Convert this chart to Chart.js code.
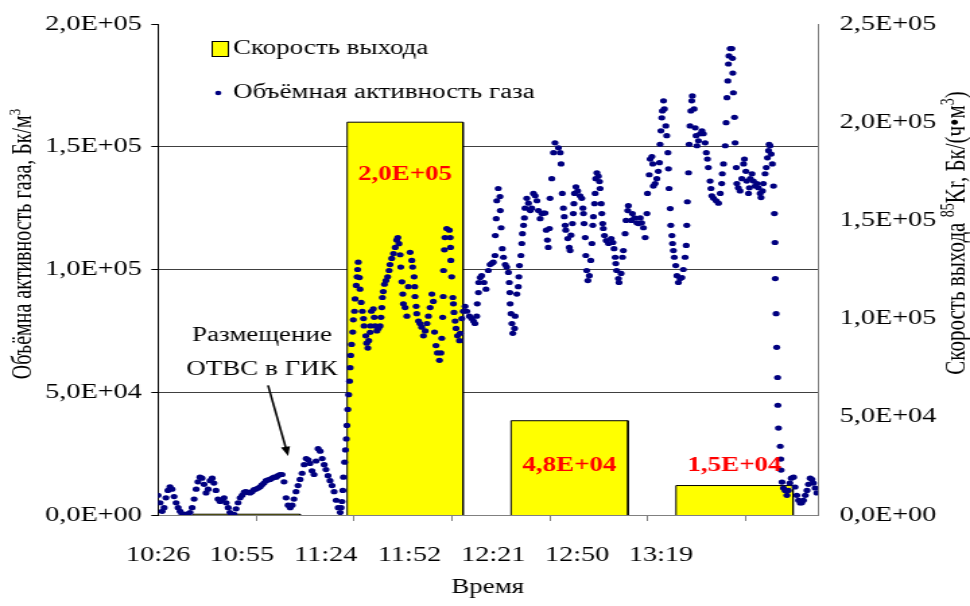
<!DOCTYPE html>
<html>
<head>
<meta charset="utf-8">
<script src="https://cdn.jsdelivr.net/npm/chart.js@4.4.1/dist/chart.umd.min.js"></script>
<style>
  body { margin: 0; background: #fff; }
  canvas { display: block; }
</style>
</head>
<body>
<!-- the original picture is stretched sideways, so the canvas is drawn narrower and scaled up -->
<canvas id="chart" width="720" height="606" style="width:970px;height:606px"></canvas>
<script>
'use strict';

// gas activity readings: [time in minutes after midnight, kBq/m3]
const gasActivity = [
  [626.4,8],[627.1,5],[627.8,1.5],[628.5,3],[629.1,7],[629.8,10],[630.5,11.5],[631.2,10.5],[631.9,7.5],[632.6,5],
  [633.3,3],[634.0,1.5],[634.6,0.5],[635.3,0.3],[636.0,0.3],[636.7,0.5],[637.4,1],[638.1,3],[638.8,6.5],[639.5,10.5],
  [640.1,13.5],[640.8,15.4],[641.5,15],[642.2,12.5],[642.9,9],[643.6,10.5],[644.3,14],[645.0,15],[645.6,13],[646.3,10],
  [647.0,6.5],[647.7,5.5],[648.4,6],[649.1,7],[649.8,5],[650.5,3],[651.1,1],[651.8,0.3],[652.5,0.3],[653.2,2.5],
  [653.9,5],[654.6,7],[655.3,8],[656.0,9.3],[656.6,9.5],[657.3,9.2],[658.0,9],[658.7,9.5],[659.4,10.3],[660.1,10.6],
  [660.8,11],[661.5,11.5],[662.1,12.3],[662.8,13],[663.5,14],[664.2,14.3],[664.9,14.5],[665.6,15],[666.3,15.4],[667.0,15.4],
  [667.6,16],[668.3,16.5],[669.0,16.5],[669.7,13.5],[670.4,7],[671.1,4],[671.8,3],[672.5,4],[673.1,6.5],[673.8,9.5],
  [674.5,12],[675.2,14.5],[675.9,17],[676.6,20.5],[677.3,23],[678.0,22.5],[678.6,21],[679.3,18],[680.0,16.5],[680.7,22],
  [681.4,27],[682.1,26],[682.8,23],[683.5,20.5],[684.1,18.5],[684.8,16],[685.5,14],[686.2,12],[686.9,9.5],[687.6,6],
  [688.3,3],[689.0,1],
  [689.3,3],[689.6,5.5],[689.9,10],[690.1,15.4],[690.5,21.5],[690.8,26.5],[691.1,31],[691.3,36.5],[691.6,43],[691.9,49],
  [692.2,54.5],[692.4,60],[692.6,65],[692.9,69.5],[693.3,74.5],[693.5,79.5],[693.9,83],[694.1,88],[694.5,93.5],[694.8,97],
  [695.0,100],[695.2,103],
  [695.6,96.7],[695.8,92],[696.2,86.6],[696.6,83],[697.0,80],[697.2,77],[697.8,73],[698.1,70],[698.5,68],[698.8,71],
  [699.3,74.4],[699.4,77],[699.7,83],[700.4,84],[700.7,80.5],[701.0,77],[701.6,75],[702.1,76],[702.7,77],[703.0,80.5],
  [703.3,84.5],[703.5,88.6],[703.8,91],[704.2,94],[704.7,95.5],[705.3,97],[705.8,99.6],[706.1,102],[706.7,104.5],[707.3,106.5],
  [707.9,109],[708.4,112],[708.8,113],[709.2,110.5],[709.6,106],[709.8,101],[710.2,95],[710.5,90],[710.7,86],[711.3,84.5],
  [711.9,81],[712.4,93],[713.0,107],[713.6,103.7],[713.9,101],[714.4,97],[714.6,93],[714.7,89],[715.1,85],[715.3,82],
  [715.9,79],[716.4,78],[717.0,76.5],[717.6,73],[718.2,75],[718.8,78],[719.3,81],[719.9,84.5],[720.5,90],[721.0,87],
  [721.4,74.5],[721.9,69],[722.4,66],[723.1,63],[723.6,66],[723.9,72],[724.2,80.5],[724.4,89],[724.5,99.6],[724.8,108],
  [725.0,113],[725.6,116.7],[726.5,116],[726.8,113],[726.9,109],[727.0,103.7],[727.3,97],[727.7,88.6],[727.9,86],[728.1,82.5],
  [728.5,79],[728.8,76],[729.3,73],[730.0,71],[730.2,74],[730.8,80],[731.3,83],
  [731.9,85],[732.5,83],[733.4,81],[734.2,80],[734.8,79],[735.3,78],[735.9,81],[736.1,86],[736.5,90.6],[736.6,94.7],
  [737.1,96.7],[737.6,97.5],[738.4,94.7],[739.1,92],[739.9,99.6],[740.5,102],[741.1,102.5],[741.6,103],[742.2,105.7],[742.3,113.8],
  [742.6,120.7],[742.8,128],[743.3,133],[743.9,129.7],[744.0,124],[744.3,117],[744.7,108.5],[745.1,105],[745.7,102],[746.2,101],
  [746.8,98.8],[747.1,94.7],[747.3,90.6],[747.4,86],[747.7,82],[748.0,78],[748.3,74],[748.9,76],[749.1,81],[749.7,90],
  [750.2,93],[750.4,97],[750.6,101.6],[751.1,105.7],[751.4,110.6],[751.6,114.6],[752.0,118],[752.3,121],[752.5,125],[753.1,129],
  [753.7,127],[754.3,124],[754.8,125],[755.4,131],[756.0,130],[756.6,128],[757.1,124],[757.7,120.7],[758.3,122.8],[758.8,123],
  [759.4,123],[759.8,116],[760.2,112],[760.5,109],[760.9,116.7],[761.1,129],[761.7,137],[762.3,147.6],[762.8,151.6],[764.0,149.6],
  [764.6,147.6],[764.9,143],[765.3,131],[765.7,125],[766.0,121.5],[766.3,118],[766.5,116],[767.2,112.6],[767.7,109],[768.0,107.7],
  [768.3,114],[768.8,118.7],[769.1,122.8],[769.3,126.8],[769.5,131],[770.0,133.7],[770.6,132],[771.4,130],[772.0,129],[772.4,125],
  [772.6,122.8],[772.8,118.7],[773.2,113],[773.4,105.7],[773.7,99.6],[774.1,95.5],[774.6,97.5],[775.1,103.7],[775.5,110.6],[775.8,118],
  [776.0,121.5],[776.4,126.8],[776.6,131],[776.8,137],[777.2,139.4],[777.7,138],[778.1,135.8],[778.3,133],[778.7,126.8],[778.9,122.8],
  [779.2,118.7],[779.4,116.7],[779.8,113.8],[780.4,111.8],[781.2,110.6],[782.1,112.6],[782.7,111],[783.1,108.5],[783.5,105],[783.7,102.4],
  [784.0,99.6],[784.6,96.3],[784.8,94.7],[785.5,98.4],[786.0,105],[786.3,107.7],[786.9,114.6],[787.2,120],[787.8,124],[788.0,126],
  [789.0,120],[789.4,122.8],[790.1,121],
  [790.9,119],[791.5,118.7],[792.1,121],[792.6,119],[793.2,117],[793.8,113],[794.4,122.8],[794.6,131],[795.2,138.6],[795.5,145],
  [796.1,146],[796.4,143],[796.6,134],[797.2,135],[797.8,137],[798.3,140],[798.7,143.5],[798.9,151],[799.2,156.5],[799.5,161.8],
  [799.7,164.6],[800.1,168.7],[800.4,165.4],[800.9,158.5],[801.2,154.5],[801.6,147.6],[801.8,141],[802.0,133],[802.4,124.8],[802.6,118],
  [803.0,113.8],[803.2,110.6],[803.5,107.7],[803.8,105],[804.3,101.6],[804.7,97.5],[805.2,94.7],[805.8,96.3],[806.4,96.7],[806.9,100],
  [807.5,105],[807.9,109.8],[808.1,118],[808.3,127.6],[808.7,139.4],[808.9,151],[809.2,158.5],[809.5,164.6],[809.8,168.7],[810.0,170.7],
  [810.6,165.4],[811.0,157.7],[811.3,154.5],[811.6,150.4],[812.1,152.4],[812.7,155.3],[813.3,156.5],[813.8,155.3],[814.4,151.6],[814.8,147.6],
  [815.2,145],[815.5,141.5],[816.1,136],[816.4,133],[816.7,130],[817.3,129],[818.2,128],[819.0,127],
  [819.6,131],[820.1,135],[820.3,139],[820.7,143],[821.3,150.4],[821.6,159.8],[821.9,170],[822.2,176.8],[822.4,183.7],[822.6,187],
  [823.0,190],[823.6,190],[823.8,186],[823.9,180],[824.1,172],[824.5,162],[824.7,151.6],[825.1,141.5],[825.3,135],[825.8,133.3],
  [826.4,132],[827.0,137],[827.6,143],[827.9,145],[828.4,140],[828.7,136],[829.3,131],[829.6,133.3],[829.9,137],[830.5,139],
  [831.0,136],[831.6,134],[832.2,135],[832.7,133.3],[833.3,131],[833.6,129.3],[834.1,132],[834.4,135],[835.0,139],[835.4,141.5],
  [835.8,145.5],[836.2,148.4],[836.4,151],[836.7,150.4],[837.1,147],[837.5,143],[837.9,134],[838.2,122.8],[838.4,111],[838.5,96.3],
  [838.8,82],[839.0,68.3],[839.3,56],[839.4,44.7],[839.6,35.4],[840.2,28],[840.4,22.8],[840.5,18.3],[840.8,13.4],[841.3,11],
  [841.9,10],[842.5,8],[843.0,10],[843.5,13],[844.0,15],[844.8,15.4],[845.3,11.4],[845.9,8],[846.5,6],[847.1,4.9],
  [847.6,5],[848.2,6],[848.8,8],[849.4,10],[849.9,12.5],[850.5,15],[851.1,14.5],[851.6,13],[852.2,11],[852.8,9]
];

// release rate of 85Kr over each measuring interval (minutes after midnight, Bq/(h*m3))
const releaseStart = [638.4, 691.4, 747.7, 804.4];
const releaseEnd = [675.2, 731.2, 787.9, 844.6];
const releaseRate = [400, 200000, 48000, 15000];

// x axis: minutes after midnight
const xMin = 626.4;
const xMax = 853.2;
const xTickValues = [626.4, 655.2, 684, 712.8, 741.6, 770.4, 799.2];
const xMarkStep = 33.6;

const legendLabels = ['Скорость выхода', 'Объёмная активность газа'];
const noteLines = ['Размещение', 'ОТВС в ГИК'];
// note position in data units: [minutes, kBq/m3]
const noteText = [662.1, 73, 59];
const noteArrow = [664.2, 52.8, 671.1, 24];

// label shift from the bar top, px (null = no label)
const rateLabelShift = [null, 53, 45, -20];

const FONT = '"Liberation Serif", "Times New Roman", serif';

// 200000 -> "2,0E+05"
function sci(v) {
  const parts = v.toExponential(1).split('e');
  const exp = parseInt(parts[1], 10);
  return parts[0].replace('.', ',') + 'E' + (exp < 0 ? '-' : '+') + String(Math.abs(exp)).padStart(2, '0');
}

function clock(v) {
  const h = Math.floor(v / 60);
  const m = Math.floor(v - h * 60 + 1e-6);
  return h + ':' + String(m).padStart(2, '0');
}

// text with superscripts, centred on (cx, cy)
function drawRich(ctx, parts, cx, cy, angle, size) {
  const fontFor = (p) => (p.sup ? Math.round(size * 0.65) : size) + 'px ' + FONT;
  ctx.save();
  ctx.translate(cx, cy);
  ctx.rotate(angle);
  ctx.textAlign = 'left';
  ctx.textBaseline = 'alphabetic';
  ctx.fillStyle = '#000';
  let total = 0;
  parts.forEach((p) => {
    ctx.font = fontFor(p);
    total += ctx.measureText(p.t).width;
  });
  let px = -total / 2;
  parts.forEach((p) => {
    ctx.font = fontFor(p);
    ctx.fillText(p.t, px, size * 0.33 - (p.sup ? size * 0.38 : 0));
    px += ctx.measureText(p.t).width;
  });
  ctx.restore();
}

// bars as closed outlines over their time intervals
const releaseOutline = [];
releaseRate.forEach((v, i) => {
  releaseOutline.push({ x: releaseStart[i], y: 0 });
  releaseOutline.push({ x: releaseStart[i], y: v });
  releaseOutline.push({ x: releaseEnd[i], y: v });
  releaseOutline.push({ x: releaseEnd[i], y: 0 });
  releaseOutline.push({ x: releaseEnd[i], y: null });
});

const decorPlugin = {
  id: 'decor',
  afterDatasetsDraw(chart) {
    const { ctx, scales } = chart;
    const x = scales.x;
    const y = scales.y;
    const y2 = scales.y2;
    ctx.save();

    // value labels on the bars
    ctx.font = 'bold 20px ' + FONT;
    ctx.fillStyle = '#ff0000';
    ctx.textAlign = 'center';
    ctx.textBaseline = 'middle';
    releaseRate.forEach((v, i) => {
      if (rateLabelShift[i] === null) return;
      const cx = x.getPixelForValue((releaseStart[i] + releaseEnd[i]) / 2);
      const cy = y2.getPixelForValue(v) + rateLabelShift[i];
      ctx.fillText(sci(v), cx, cy);
    });

    // note with arrow
    ctx.font = '20px ' + FONT;
    ctx.fillStyle = '#000';
    noteLines.forEach((line, i) => {
      ctx.fillText(line, x.getPixelForValue(noteText[0]), y.getPixelForValue(noteText[1 + i] * 1000));
    });
    const ax0 = x.getPixelForValue(noteArrow[0]);
    const ay0 = y.getPixelForValue(noteArrow[1] * 1000);
    const ax1 = x.getPixelForValue(noteArrow[2]);
    const ay1 = y.getPixelForValue(noteArrow[3] * 1000);
    const ang = Math.atan2(ay1 - ay0, ax1 - ax0);
    ctx.strokeStyle = '#000';
    ctx.lineWidth = 1.6;
    ctx.beginPath();
    ctx.moveTo(ax0, ay0);
    ctx.lineTo(ax1 - 6 * Math.cos(ang), ay1 - 6 * Math.sin(ang));
    ctx.stroke();
    ctx.beginPath();
    ctx.moveTo(ax1, ay1);
    ctx.lineTo(ax1 - 10 * Math.cos(ang - 0.35), ay1 - 10 * Math.sin(ang - 0.35));
    ctx.lineTo(ax1 - 10 * Math.cos(ang + 0.35), ay1 - 10 * Math.sin(ang + 0.35));
    ctx.closePath();
    ctx.fill();

    // legend inside the plot
    ctx.fillStyle = '#ffff00';
    ctx.fillRect(157.5, 41, 12, 15);
    ctx.strokeStyle = '#000';
    ctx.lineWidth = 1;
    ctx.strokeRect(157.5, 41.5, 12, 15);
    ctx.fillStyle = '#000080';
    ctx.beginPath();
    ctx.arc(162, 93, 2.3, 0, Math.PI * 2);
    ctx.fill();
    ctx.fillStyle = '#000';
    ctx.font = '20px ' + FONT;
    ctx.textAlign = 'left';
    ctx.fillText(legendLabels[0], 173, 49);
    ctx.fillText(legendLabels[1], 173, 93);
    ctx.restore();
  },
  afterDraw(chart) {
    const { ctx } = chart;
    const x = chart.scales.x;
    ctx.save();
    // small tick marks under the time axis
    ctx.strokeStyle = '#808080';
    ctx.lineWidth = 1;
    ctx.beginPath();
    for (let v = xMin + xMarkStep; v < xMax; v += xMarkStep) {
      const px = Math.round(x.getPixelForValue(v)) + 0.5;
      ctx.moveTo(px, x.top);
      ctx.lineTo(px, x.top + 6);
    }
    ctx.stroke();
    ctx.restore();

    drawRich(ctx, [{ t: 'Объёмна активность газа, Бк/м' }, { t: '3', sup: true }], 16.3, 244, -Math.PI / 2, 20);
    drawRich(ctx, [{ t: 'Скорость выхода ' }, { t: '85', sup: true }, { t: 'Kr, Бк/(ч•м' }, { t: '3', sup: true }, { t: ')' }],
      709, 233, -Math.PI / 2, 21);
    drawRich(ctx, [{ t: 'Время' }], 362, 586, 0, 20);
  },
};

Chart.defaults.font.family = FONT;
Chart.defaults.font.size = 21;
Chart.defaults.color = '#000';

const chart = new Chart(document.getElementById('chart'), {
  type: 'scatter',
  data: {
    datasets: [
      {
        type: 'line',
        label: legendLabels[0],
        data: releaseOutline,
        yAxisID: 'y2',
        order: 2,
        borderColor: '#000',
        borderWidth: 1,
        backgroundColor: '#ffff00',
        fill: 'origin',
        pointRadius: 0,
        spanGaps: false,
        tension: 0,
      },
      {
        type: 'scatter',
        label: legendLabels[1],
        data: gasActivity.map((p) => ({ x: p[0], y: p[1] * 1000 })),
        yAxisID: 'y',
        order: 1,
        pointRadius: 2.6,
        pointBorderWidth: 0,
        backgroundColor: '#000080',
      },
    ],
  },
  options: {
    responsive: false,
    devicePixelRatio: 1,
    animation: false,
    events: [],
    layout: { padding: { top: 24, left: 0, right: 0, bottom: 0 } },
    scales: {
      x: {
        type: 'linear',
        position: 'bottom',
        min: xMin,
        max: xMax,
        afterBuildTicks: (scale) => {
          scale.ticks = xTickValues.map((v) => ({ value: v }));
        },
        afterFit: (scale) => {
          scale.height = 91;
        },
        ticks: {
          padding: 20,
          maxRotation: 0,
          callback: (v) => clock(v),
        },
        grid: { display: false },
        border: { display: true, color: '#808080', width: 1 },
      },
      y: {
        position: 'left',
        min: 0,
        max: 200000,
        afterFit: (scale) => {
          scale.width = 117.3;
        },
        ticks: {
          stepSize: 50000,
          padding: 7,
          callback: (v) => sci(v),
        },
        grid: {
          color: (c) => (c.tick && (c.tick.value === 0 || c.tick.value === 200000) ? 'rgba(0,0,0,0)' : '#404040'),
          tickColor: '#000',
          tickLength: 5,
          lineWidth: 1,
        },
        border: { color: '#000', width: 1 },
      },
      y2: {
        position: 'right',
        min: 0,
        max: 250000,
        afterFit: (scale) => {
          scale.width = 112.8;
        },
        ticks: {
          stepSize: 50000,
          padding: 8,
          callback: (v) => sci(v),
        },
        grid: { display: false },
        border: { display: true, color: '#808080', width: 1 },
      },
    },
    plugins: {
      legend: { display: false },
      tooltip: { enabled: false },
    },
  },
  plugins: [decorPlugin],
});
</script>
</body>
</html>
